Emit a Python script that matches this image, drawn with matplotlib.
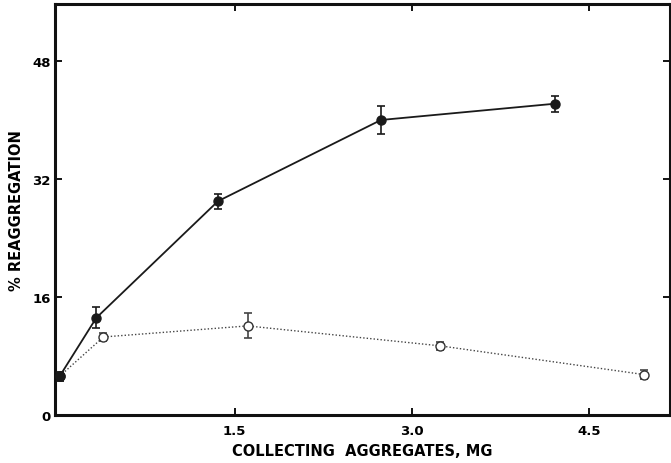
import matplotlib.pyplot as plt

# Filled circles (solid line)
x_filled = [0.02, 0.33, 1.36, 2.74, 4.21]
y_filled = [5.3, 13.2, 29.0, 40.0, 42.2]
err_filled = [0.6, 1.4, 1.0, 1.9, 1.1]

# Open circles (dotted line)
x_open = [0.02, 0.39, 1.61, 3.24, 4.97]
y_open = [5.3, 10.6, 12.1, 9.4, 5.5]
err_open = [0.6, 0.5, 1.7, 0.5, 0.6]

xticks = [1.5, 3.0, 4.5]
yticks = [0, 16, 32, 48]

plt.rcParams["font.family"] = ["DejaVu Sans"]
plt.rcParams["font.weight"] = "bold"

fig = plt.figure(figsize=(6.71, 4.64), dpi=100)
ax = fig.add_axes([0.082, 0.103, 0.917, 0.886])

ax.errorbar(x_filled, y_filled, yerr=err_filled, color="#1a1a1a", lw=1.3,
            marker="o", ms=6.5, mfc="#1a1a1a", mec="#1a1a1a",
            capsize=3, elinewidth=1.2, capthick=1.2, zorder=3)
ax.errorbar(x_open, y_open, yerr=err_open, color="#444444", lw=1.0, ls=(0, (1, 1.5)),
            marker="o", ms=6.5, mfc="white", mec="#333333",
            capsize=3, elinewidth=1.2, capthick=1.2, zorder=2)

ax.set_xlim(-0.02, 5.19)
ax.set_ylim(0, 55.7)
ax.set_xticks(xticks)
ax.set_yticks(yticks)
ax.set_xticklabels(["1.5", "3.0", "4.5"], fontsize=9.5, fontweight="bold")
ax.set_yticklabels(["0", "16", "32", "48"], fontsize=9.5, fontweight="bold")
ax.tick_params(direction="in", length=5, width=1.3, top=True, right=True)
ax.tick_params(axis="y", pad=3)
ax.tick_params(axis="x", pad=6)

for s in ax.spines.values():
    s.set_linewidth(2.2)
    s.set_color("#111111")

ax.set_xlabel("COLLECTING  AGGREGATES, MG", fontsize=10.5, fontweight="bold", labelpad=5)
ax.set_ylabel("% REAGGREGATION", fontsize=10.5, fontweight="bold", labelpad=6)

plt.savefig("out.png")
